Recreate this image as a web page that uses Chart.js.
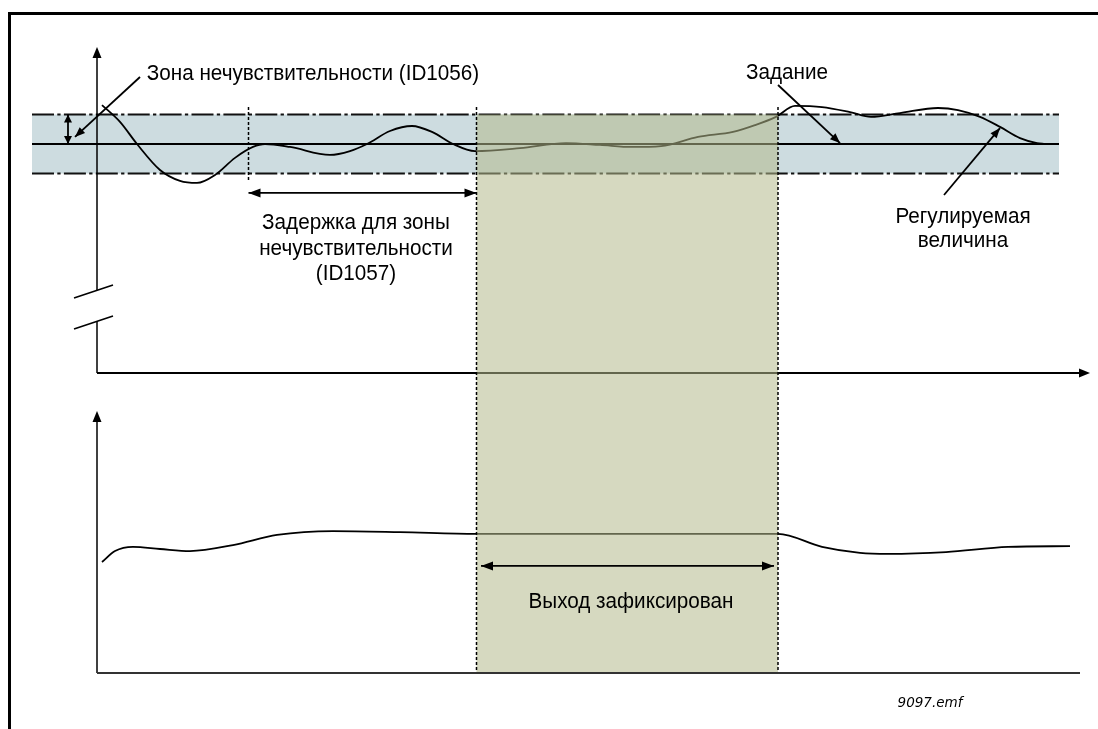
<!DOCTYPE html>
<html lang="ru">
<head>
<meta charset="utf-8">
<title>Зона нечувствительности</title>
<script src="https://cdn.jsdelivr.net/npm/chart.js@4.4.1/dist/chart.umd.min.js"></script>
<style>
  html, body { margin: 0; padding: 0; background: #fff; }
  #wrap { position: relative; width: 1098px; height: 729px; overflow: hidden; }
  #frame {
    position: absolute; left: 8px; top: 12px; right: 0; bottom: 0;
    border-top: 3px solid #000; border-left: 3px solid #000;
    pointer-events: none;
  }
</style>
</head>
<body>
<div id="wrap">
  <canvas id="chart" width="1098" height="729"></canvas>
  <div id="frame"></div>
</div>
<script>
// time axis (shared) and the two value axes: controlled value (upper) and output (lower)
const timeRange = [-9.7, 100.1];
const controlRange = [-19.83, 4.881];
const outputRange = [-21.54, 258.85];

const setpoint = 0;
const deadband = 1;
const bandTime = [-6.5, 96.2];

// events on the time axis
const delayStart = 15.15;
const freezeStart = 37.95;
const freezeEnd = 68.1;

// controlled value (upper curve)
const controlTime = [0.5, 2.3, 4.0, 6.3, 8.3, 10.0, 11.8, 13.8, 15.6, 16.8, 19.3, 23.3, 25.3, 27.0, 29.3, 31.5, 33.5, 35.6, 37.8,
  42.3, 46.9, 50.3, 53.5, 56.4, 60.1, 63.6, 65.8, 67.9, 69.8, 72.5, 75.3, 77.4, 80.3, 84.1, 86.1, 88.3, 90.3, 92.3, 94.0, 94.8];
const controlValue = [1.32, 0.75, 0, -0.88, -1.25, -1.32, -1.05, -0.47, -0.10, 0, -0.10, -0.37, -0.24, 0, 0.44, 0.61, 0.41, 0, -0.24,
  -0.14, 0.03, -0.03, -0.10, -0.07, 0.24, 0.41, 0.64, 0.92, 1.29, 1.25, 1.08, 0.92, 1.05, 1.22, 1.15, 0.92, 0.58, 0.20, 0.03, 0];

// controller output (lower curve)
const outputTime = [0.5, 1.8, 3.6, 6.3, 9.3, 13.6, 18.0, 23.6, 30.3, 37.95, 68.1, 72.5, 76.3, 79.1, 84.9, 91.1, 97.3];
const outputValue = [42.7, 46.9, 48.5, 47.7, 46.9, 49.2, 53.1, 54.6, 54.2, 53.5, 53.5, 48.5, 46.2, 45.8, 46.5, 48.5, 48.8];

// axes extents
const upperAxisTop = 3.29;
const upperAxisBottom = -7.76;
const upperAxisBreak = [-4.95, -6.0];
const upperAxisEnd = 99.3;
const lowerAxisTop = 100.8;
const lowerAxisEnd = 98.3;

// text labels: [text, time, value, axis]
const zoneLabel = ["Зона нечувствительности (ID1056)", 21.6, 2.17, "y"];
const setpointLabel = ["Задание", 69.0, 2.2, "y"];
const delayLabel = [
  ["Задержка для зоны", 25.9, -2.88, "y"],
  ["нечувствительности", 25.9, -3.75, "y"],
  ["(ID1057)", 25.9, -4.61, "y"]
];
const actualLabel = [
  ["Регулируемая", 86.6, -2.68, "y"],
  ["величина", 86.6, -3.49, "y"]
];
const frozenLabel = ["Выход зафиксирован", 53.4, 25.0, "y2"];
const fileLabel = ["9097.emf", 83.3, -13.1, "y2"];

const textScaleX = 0.94;

function toPoints(times, values) {
  return times.map((t, i) => ({ x: t, y: values[i] }));
}

function strokeLine(ctx, x1, y1, x2, y2, width, color, dash) {
  ctx.save();
  ctx.beginPath();
  ctx.lineWidth = width;
  ctx.strokeStyle = color;
  ctx.setLineDash(dash || []);
  ctx.moveTo(x1, y1);
  ctx.lineTo(x2, y2);
  ctx.stroke();
  ctx.restore();
}

function arrowHead(ctx, fromX, fromY, toX, toY, len, half, color) {
  const angle = Math.atan2(toY - fromY, toX - fromX);
  ctx.save();
  ctx.translate(toX, toY);
  ctx.rotate(angle);
  ctx.beginPath();
  ctx.moveTo(0, 0);
  ctx.lineTo(-len, -half);
  ctx.lineTo(-len, half);
  ctx.closePath();
  ctx.fillStyle = color || "#000";
  ctx.fill();
  ctx.restore();
}

function arrow(ctx, x1, y1, x2, y2, both, len, half) {
  strokeLine(ctx, x1, y1, x2, y2, 1.8, "#000");
  arrowHead(ctx, x1, y1, x2, y2, len, half);
  if (both) {
    arrowHead(ctx, x2, y2, x1, y1, len, half);
  }
}

function drawLabel(chart, label, font, scaleX) {
  const [text, t, v, axis] = label;
  const ctx = chart.ctx;
  const px = chart.scales.x.getPixelForValue(t);
  const py = chart.scales[axis].getPixelForValue(v);
  ctx.save();
  ctx.translate(px, py);
  ctx.scale(scaleX || textScaleX, 1);
  ctx.font = font;
  ctx.fillStyle = "#000";
  ctx.textAlign = "center";
  ctx.textBaseline = "alphabetic";
  ctx.fillText(text, 0, 0);
  ctx.restore();
}

const diagramPlugin = {
  id: "diagram",
  afterDatasetsDraw(chart) {
    const { ctx } = chart;
    const { x, y, y2 } = chart.scales;
    const x0 = x.getPixelForValue(0);

    // upper axes with a break on the vertical one
    strokeLine(ctx, x0, y.getPixelForValue(upperAxisTop) + 8, x0, y.getPixelForValue(upperAxisBreak[0]), 1.5, "#000");
    strokeLine(ctx, x0, y.getPixelForValue(upperAxisBreak[1]), x0, y.getPixelForValue(upperAxisBottom), 1.5, "#000");
    arrowHead(ctx, x0, y.getPixelForValue(0), x0, y.getPixelForValue(upperAxisTop), 11, 4.5);
    strokeLine(ctx, x.getPixelForValue(-2.3), y.getPixelForValue(-5.22), x.getPixelForValue(1.6), y.getPixelForValue(-4.78), 1.5, "#000");
    strokeLine(ctx, x.getPixelForValue(-2.3), y.getPixelForValue(-6.27), x.getPixelForValue(1.6), y.getPixelForValue(-5.83), 1.5, "#000");
    const yAxisBase = y.getPixelForValue(upperAxisBottom);
    strokeLine(ctx, x0, yAxisBase, x.getPixelForValue(upperAxisEnd) - 8, yAxisBase, 2, "#000");
    arrowHead(ctx, x0, yAxisBase, x.getPixelForValue(upperAxisEnd), yAxisBase, 11, 4.5);

    // lower vertical axis
    strokeLine(ctx, x0, y2.getPixelForValue(0), x0, y2.getPixelForValue(lowerAxisTop) + 8, 1.5, "#000");
    arrowHead(ctx, x0, y2.getPixelForValue(0), x0, y2.getPixelForValue(lowerAxisTop), 11, 4.5);

    // output frozen area (translucent, so lines below turn grey)
    const fx1 = x.getPixelForValue(freezeStart);
    const fx2 = x.getPixelForValue(freezeEnd);
    const fy1 = y.getPixelForValue(setpoint + deadband);
    const fy2 = y2.getPixelForValue(0);
    ctx.save();
    ctx.fillStyle = "rgba(180, 186, 140, 0.55)";
    ctx.fillRect(fx1, fy1, fx2 - fx1, fy2 - fy1);
    ctx.restore();

    // lower horizontal axis
    const y2Base = y2.getPixelForValue(0);
    strokeLine(ctx, x0, y2Base, x.getPixelForValue(lowerAxisEnd), y2Base, 2, "#333");

    // dotted event lines
    const dotTop = y.getPixelForValue(1.25);
    strokeLine(ctx, x.getPixelForValue(delayStart), dotTop, x.getPixelForValue(delayStart), y.getPixelForValue(-1.29), 1.5, "#000", [3, 2]);
    strokeLine(ctx, fx1, dotTop, fx1, y2.getPixelForValue(1.15), 1.5, "#000", [3, 2]);
    strokeLine(ctx, fx2, dotTop, fx2, y2.getPixelForValue(1.15), 1.5, "#000", [3, 2]);

    // deadband width arrow
    const xb = x.getPixelForValue(-2.9);
    arrow(ctx, xb, y.getPixelForValue(setpoint + deadband), xb, y.getPixelForValue(setpoint), true, 8, 4);

    // pointer arrows
    arrow(ctx, x.getPixelForValue(4.3), y.getPixelForValue(2.27), x.getPixelForValue(-2.2), y.getPixelForValue(0.24), false, 10, 4);
    arrow(ctx, x.getPixelForValue(68.1), y.getPixelForValue(2.0), x.getPixelForValue(74.3), y.getPixelForValue(0.03), false, 10, 4);
    arrow(ctx, x.getPixelForValue(84.7), y.getPixelForValue(-1.73), x.getPixelForValue(90.3), y.getPixelForValue(0.54), false, 10, 4);

    // delay and frozen span arrows
    const yd = y.getPixelForValue(-1.66);
    arrow(ctx, x.getPixelForValue(delayStart), yd, x.getPixelForValue(freezeStart), yd, true, 12, 4.5);
    const yf = y2.getPixelForValue(41.2);
    arrow(ctx, x.getPixelForValue(38.4), yf, x.getPixelForValue(67.7), yf, true, 12, 4.5);

    // texts
    const font = "22px 'Liberation Sans', Arial, sans-serif";
    drawLabel(chart, zoneLabel, font);
    drawLabel(chart, setpointLabel, font);
    delayLabel.forEach((label) => drawLabel(chart, label, font));
    actualLabel.forEach((label) => drawLabel(chart, label, font));
    drawLabel(chart, frozenLabel, font);
    drawLabel(chart, fileLabel, "italic 13.5px 'DejaVu Sans', Verdana, sans-serif", 1);
  }
};

const bandDash = [22, 3.3, 3.3, 3.3];

new Chart(document.getElementById("chart"), {
  type: "line",
  data: {
    datasets: [
      {
        data: toPoints(bandTime, [setpoint + deadband, setpoint + deadband]),
        yAxisID: "y",
        order: 10,
        borderColor: "#111",
        borderWidth: 1.8,
        borderDash: bandDash,
        backgroundColor: "#cddce0",
        fill: "+1"
      },
      {
        data: toPoints(bandTime, [setpoint - deadband, setpoint - deadband]),
        yAxisID: "y",
        order: 9,
        borderColor: "#111",
        borderWidth: 1.8,
        borderDash: bandDash,
        fill: false
      },
      {
        data: toPoints(bandTime, [setpoint, setpoint]),
        yAxisID: "y",
        order: 5,
        borderColor: "#000",
        borderWidth: 2,
        fill: false
      },
      {
        data: toPoints(controlTime, controlValue),
        yAxisID: "y",
        order: 1,
        borderColor: "#000",
        borderWidth: 1.8,
        cubicInterpolationMode: "monotone",
        fill: false
      },
      {
        data: toPoints(outputTime, outputValue),
        yAxisID: "y2",
        order: 1,
        borderColor: "#000",
        borderWidth: 1.8,
        cubicInterpolationMode: "monotone",
        fill: false
      }
    ]
  },
  options: {
    responsive: false,
    animation: false,
    events: [],
    layout: { padding: 0 },
    elements: { point: { radius: 0 } },
    plugins: {
      legend: { display: false },
      tooltip: { enabled: false }
    },
    scales: {
      x: { type: "linear", min: timeRange[0], max: timeRange[1], display: false },
      y: { type: "linear", min: controlRange[0], max: controlRange[1], display: false },
      y2: { type: "linear", min: outputRange[0], max: outputRange[1], display: false }
    }
  },
  plugins: [diagramPlugin]
});
</script>
</body>
</html>
